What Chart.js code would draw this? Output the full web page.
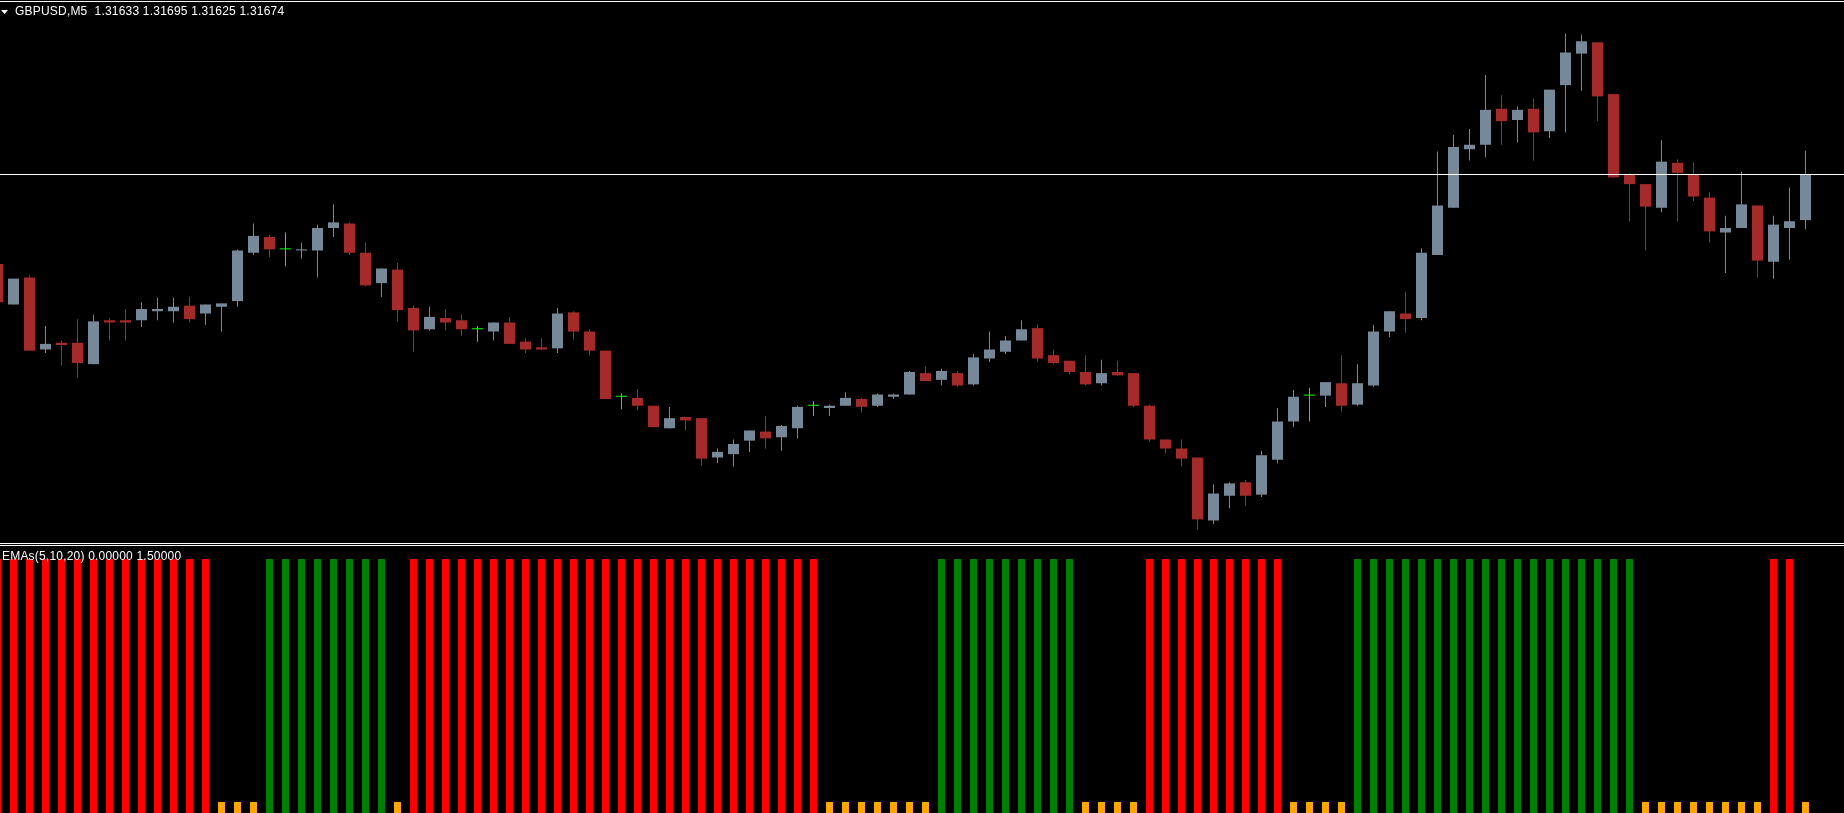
<!DOCTYPE html>
<html><head><meta charset="utf-8">
<script src="https://cdn.jsdelivr.net/npm/chart.js@4.4.1/dist/chart.umd.min.js"></script>
<style>
html,body{margin:0;padding:0;background:#000;width:1844px;height:813px;overflow:hidden;}
canvas{position:absolute;left:0;}
#top{top:0;}
#bottom{top:542px;}
.lbl{position:absolute;color:#fff;font-family:"Liberation Sans",Arial,sans-serif;font-size:12px;line-height:14px;white-space:pre;letter-spacing:0.2px;}
#tri{position:absolute;left:1px;top:10px;width:7px;height:4px;background:#fff;clip-path:polygon(0 0,100% 0,50% 100%);}
</style></head><body>
<canvas id="top" width="1844" height="542"></canvas>
<canvas id="bottom" width="1844" height="271"></canvas>
<div id="tri"></div>
<div class="lbl" id="hdr" style="left:15px;top:4px"></div>
<div class="lbl" id="sub" style="left:2px;top:549px"></div>
<script>
// ---- data (GBPUSD M5, one entry per bar, oldest first) ----
const symbol = "GBPUSD,M5";
const open = [1.31594,1.31558,1.31582,1.31518,1.31524,1.31524,1.31505,1.31544,1.31544,1.31544,1.31552,1.31552,1.31557,1.31550,1.31556,1.31561,1.31604,1.31618,1.31607,1.31606,1.31606,1.31626,1.31630,1.31604,1.31577,1.31589,1.31555,1.31536,1.31546,1.31544,1.31536,1.31534,1.31542,1.31525,1.31520,1.31519,1.31551,1.31534,1.31517,1.31476,1.31475,1.31468,1.31448,1.31458,1.31457,1.31422,1.31425,1.31437,1.31445,1.31440,1.31448,1.31468,1.31466,1.31468,1.31474,1.31468,1.31476,1.31478,1.31497,1.31491,1.31497,1.31487,1.31510,1.31516,1.31526,1.31537,1.31513,1.31508,1.31498,1.31488,1.31498,1.31497,1.31468,1.31438,1.31430,1.31422,1.31366,1.31388,1.31400,1.31389,1.31420,1.31454,1.31477,1.31477,1.31488,1.31469,1.31486,1.31534,1.31550,1.31546,1.31602,1.31644,1.31696,1.31700,1.31732,1.31722,1.31732,1.31712,1.31753,1.31781,1.31791,1.31745,1.31674,1.31665,1.31644,1.31684,1.31674,1.31653,1.31622,1.31626,1.31646,1.31596,1.31626,1.31633];
const high = [1.31595,1.31581,1.31584,1.31539,1.31526,1.31545,1.31549,1.31546,1.31554,1.31560,1.31564,1.31564,1.31565,1.31558,1.31559,1.31607,1.31630,1.31620,1.31622,1.31613,1.31629,1.31647,1.31631,1.31613,1.31590,1.31595,1.31557,1.31556,1.31554,1.31549,1.31539,1.31542,1.31547,1.31528,1.31528,1.31555,1.31552,1.31536,1.31517,1.31479,1.31483,1.31468,1.31467,1.31458,1.31457,1.31430,1.31438,1.31446,1.31459,1.31451,1.31468,1.31472,1.31469,1.31480,1.31475,1.31479,1.31479,1.31499,1.31503,1.31501,1.31499,1.31514,1.31534,1.31530,1.31544,1.31540,1.31518,1.31508,1.31513,1.31509,1.31508,1.31497,1.31469,1.31438,1.31438,1.31422,1.31398,1.31400,1.31402,1.31428,1.31466,1.31482,1.31484,1.31489,1.31513,1.31505,1.31540,1.31552,1.31569,1.31608,1.31694,1.31709,1.31714,1.31762,1.31744,1.31734,1.31741,1.31749,1.31799,1.31798,1.31791,1.31745,1.31675,1.31665,1.31704,1.31687,1.31684,1.31658,1.31637,1.31676,1.31646,1.31637,1.31662,1.31695];
const low = [1.31559,1.31558,1.31517,1.31515,1.31504,1.31493,1.31505,1.31526,1.31526,1.31538,1.31544,1.31542,1.31542,1.31540,1.31534,1.31556,1.31602,1.31600,1.31592,1.31599,1.31582,1.31618,1.31602,1.31574,1.31565,1.31543,1.31516,1.31535,1.31535,1.31530,1.31525,1.31526,1.31523,1.31515,1.31518,1.31515,1.31527,1.31513,1.31474,1.31465,1.31464,1.31449,1.31448,1.31446,1.31415,1.31417,1.31414,1.31427,1.31430,1.31428,1.31439,1.31459,1.31459,1.31468,1.31462,1.31467,1.31474,1.31478,1.31490,1.31486,1.31485,1.31486,1.31507,1.31514,1.31526,1.31507,1.31505,1.31496,1.31486,1.31486,1.31495,1.31467,1.31436,1.31426,1.31414,1.31358,1.31363,1.31377,1.31379,1.31387,1.31417,1.31449,1.31454,1.31467,1.31463,1.31468,1.31485,1.31529,1.31533,1.31544,1.31602,1.31644,1.31686,1.31689,1.31700,1.31702,1.31686,1.31706,1.31711,1.31748,1.31721,1.31671,1.31632,1.31606,1.31640,1.31632,1.31650,1.31613,1.31586,1.31626,1.31582,1.31581,1.31598,1.31625];
const close = [1.31560,1.31581,1.31517,1.31523,1.31522,1.31506,1.31543,1.31542,1.31542,1.31554,1.31554,1.31556,1.31545,1.31558,1.31559,1.31606,1.31619,1.31607,1.31607,1.31607,1.31626,1.31631,1.31604,1.31575,1.31590,1.31553,1.31535,1.31547,1.31542,1.31536,1.31536,1.31542,1.31523,1.31518,1.31518,1.31550,1.31534,1.31517,1.31474,1.31476,1.31468,1.31449,1.31457,1.31455,1.31421,1.31427,1.31434,1.31446,1.31439,1.31450,1.31467,1.31468,1.31468,1.31475,1.31467,1.31478,1.31478,1.31498,1.31490,1.31499,1.31486,1.31511,1.31518,1.31526,1.31536,1.31510,1.31506,1.31498,1.31487,1.31497,1.31495,1.31468,1.31438,1.31430,1.31421,1.31367,1.31390,1.31399,1.31388,1.31424,1.31454,1.31476,1.31477,1.31489,1.31468,1.31488,1.31534,1.31552,1.31545,1.31604,1.31646,1.31698,1.31700,1.31731,1.31721,1.31731,1.31711,1.31749,1.31782,1.31792,1.31743,1.31671,1.31665,1.31645,1.31685,1.31675,1.31654,1.31623,1.31626,1.31647,1.31597,1.31629,1.31632,1.31674];
// EMAs(5,10,20) state per bar: -1 = bearish (red), 1 = bullish (green), 0 = mixed (orange)
const signal = [-1,-1,-1,-1,-1,-1,-1,-1,-1,-1,-1,-1,-1,-1, 0,0,0, 1,1,1,1,1,1,1,1, 0,
  -1,-1,-1,-1,-1,-1,-1,-1,-1,-1,-1,-1,-1,-1,-1,-1,-1,-1,-1,-1,-1,-1,-1,-1,-1,-1,
  0,0,0,0,0,0,0, 1,1,1,1,1,1,1,1,1, 0,0,0,0, -1,-1,-1,-1,-1,-1,-1,-1,-1, 0,0,0,0,
  1,1,1,1,1,1,1,1,1,1,1,1,1,1,1,1,1,1, 0,0,0,0,0,0,0,0, -1,-1, 0];
const indicatorName = "EMAs(5,10,20)";
const indicatorValues = [0.00000, 1.50000];
const signalLevel = 1.5;      // height of red/green bars
const neutralLevel = 0.065;   // height of orange bars
const bidPrice = close[close.length - 1];

// ---- styling ----
const UP = '#778899', DOWN = '#A52A2A', DOJI = '#00FF00';
const HIST = {'-1': '#FF0000', '1': '#008000', '0': '#FFA500'};
const N = open.length;
const X_MIN = 0.15625, X_MAX = X_MIN + 1844 / 16;

const candleColor = open.map((o, i) => close[i] > o ? UP : (close[i] < o ? DOWN : DOJI));
const bodies = open.map((o, i) => ({x: i, y: [o, close[i]]}));
const wicks = low.map((l, i) => ({x: i, y: [l, high[i]]}));
const hist = signal.map((s, i) => ({x: i, y: s === 0 ? neutralLevel : signalLevel}));
const histColor = signal.map(s => HIST[String(s)]);

document.getElementById('hdr').textContent =
  symbol + '  ' + [open[N-1], high[N-1], low[N-1], close[N-1]].map(v => v.toFixed(5)).join(' ');
document.getElementById('sub').textContent =
  indicatorName + ' ' + indicatorValues.map(v => v.toFixed(5)).join(' ');

const common = {
  responsive: false, animation: false, events: [],
  plugins: {legend: {display: false}, tooltip: {enabled: false}, title: {display: false}},
};

const topLines = {
  id: 'topLines',
  afterDatasetsDraw(chart) {
    const ctx = chart.ctx, w = chart.width;
    ctx.save();
    ctx.fillStyle = '#FFFFFF';
    ctx.fillRect(0, 1, w, 1);
    const y = Math.round(chart.scales.y.getPixelForValue(bidPrice));
    ctx.fillRect(0, y, w, 1);
    ctx.restore();
  }
};

new Chart(document.getElementById('top'), {
  type: 'bar',
  data: {
    datasets: [
      {data: bodies, backgroundColor: candleColor, barThickness: 11, minBarLength: 1, grouped: false, inflateAmount: 0, borderWidth: 0},
      {data: wicks, backgroundColor: candleColor, barThickness: 1, grouped: false, inflateAmount: 0, borderWidth: 0}
    ]
  },
  options: Object.assign({}, common, {
    layout: {padding: 0},
    scales: {
      x: {type: 'linear', display: false, offset: false, min: X_MIN, max: X_MAX},
      y: {type: 'linear', display: false, min: 1.3134689, max: 1.3182867}
    }
  }),
  plugins: [topLines]
});

const sepLines = {
  id: 'sepLines',
  afterDraw(chart) {
    const ctx = chart.ctx, w = chart.width;
    ctx.save();
    ctx.fillStyle = '#FFFFFF';
    ctx.fillRect(0, 1, w, 1);
    ctx.fillRect(0, 3, w, 1);
    ctx.restore();
  }
};

new Chart(document.getElementById('bottom'), {
  type: 'bar',
  data: {
    datasets: [
      {data: hist, backgroundColor: histColor, barThickness: 7, grouped: false, inflateAmount: 0, borderWidth: 0}
    ]
  },
  options: Object.assign({}, common, {
    layout: {padding: {top: 4, left: 0, right: 0, bottom: 0}},
    scales: {
      x: {type: 'linear', display: false, offset: false, min: X_MIN, max: X_MAX},
      y: {type: 'linear', display: false, min: 0, max: 1.576772}
    }
  }),
  plugins: [sepLines]
});
</script>
</body></html>
